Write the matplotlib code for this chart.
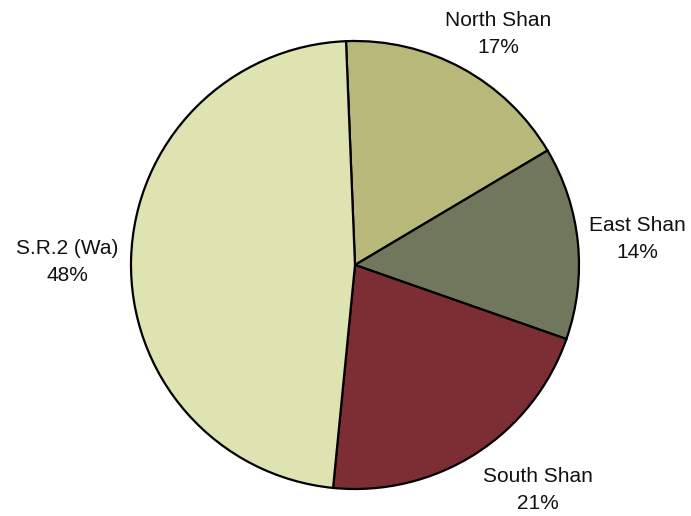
import matplotlib.pyplot as plt

regions = ['North Shan', 'East Shan', 'South Shan', 'S.R.2 (Wa)']
shares = [17.1, 13.9, 21.2, 47.8]
colors = ['#B8B87B', '#71775C', '#7D2E35', '#DEE3B2']

# label anchor points (pixels, origin bottom-left)
label_pos = [(498, 482), (637, 277), (538, 26), (67, 254)]

plt.rcParams['font.family'] = ['Liberation Sans', 'DejaVu Sans']

W, H = 691, 516
fig = plt.figure(figsize=(W / 100, H / 100), dpi=100)
ax = fig.add_axes([0, 0, 1, 1])

ax.pie(shares, colors=colors, startangle=92.3, counterclock=False,
       center=(355, H - 265), radius=224, frame=True,
       wedgeprops=dict(edgecolor='black', linewidth=1.6))
ax.set_xlim(0, W)
ax.set_ylim(0, H)
ax.set_aspect('equal')
ax.axis('off')

for name, val, (x, y) in zip(regions, shares, label_pos):
    ax.text(x, y, f"{name}\n{val:.0f}%", ha='center', va='center',
            fontsize=15, linespacing=1.5, color='#111111')

fig.savefig('out.png', dpi=100)
